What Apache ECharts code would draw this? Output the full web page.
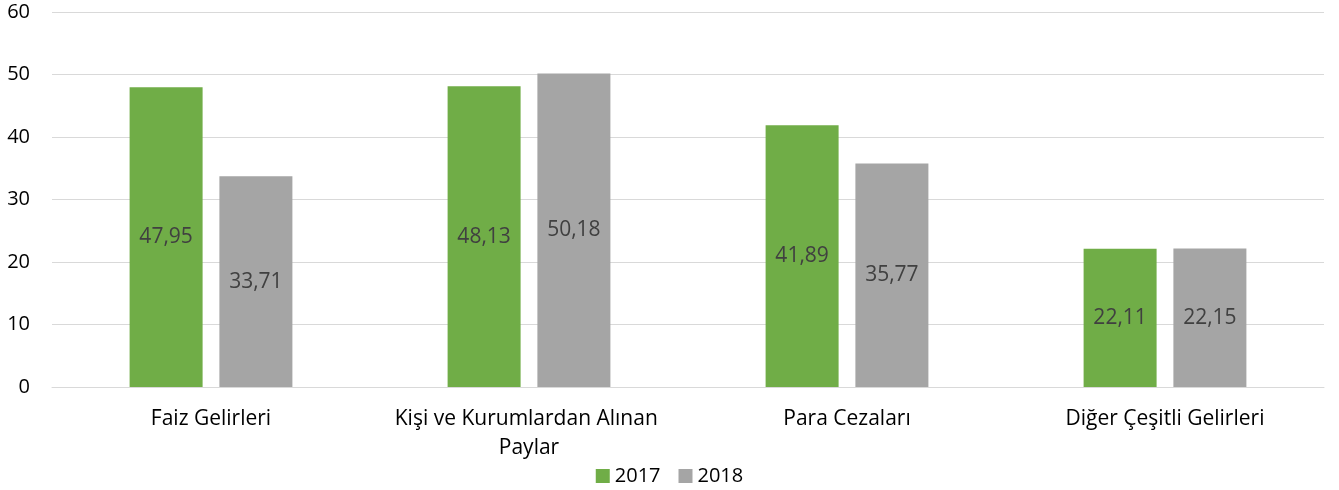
<!DOCTYPE html>
<html>
<head>
<meta charset="utf-8">
<script src="https://cdn.jsdelivr.net/npm/echarts@6/dist/echarts.min.js"></script>
<style>
  html, body { margin: 0; padding: 0; background: #fff; }
  #chart { width: 1339px; height: 490px; }
</style>
</head>
<body>
<div id="chart"></div>
<script>
const categories = ["Faiz Gelirleri", "Kişi ve Kurumlardan Alınan Paylar", "Para Cezaları", "Diğer Çeşitli Gelirleri"];
const values2017 = [47.95, 48.13, 41.89, 22.11];
const values2018 = [33.71, 50.18, 35.77, 22.15];
const yTicks = { min: 0, max: 60, interval: 10 };

const font = "'Open Sans', 'Noto Sans', sans-serif";
const chart = echarts.init(document.getElementById("chart"));

const labelStyle = {
  show: true,
  position: "inside",
  color: "#404040",
  fontSize: 21,
  fontFamily: font,
  formatter: (p) => p.value.toFixed(2).replace(".", ",")
};

chart.setOption({
  animation: false,
  textStyle: { fontFamily: font },
  legend: {
    top: 461,
    left: "center",
    itemWidth: 14,
    itemHeight: 14,
    itemGap: 18,
    icon: "rect",
    textStyle: { fontSize: 20, color: "#000", fontFamily: font },
    data: ["2017", "2018"]
  },
  grid: { left: 52, right: 15, top: 12, bottom: 103 },
  xAxis: {
    type: "category",
    data: categories,
    axisLine: { show: true, lineStyle: { color: "#d9d9d9", width: 1 } },
    axisTick: { show: false },
    axisLabel: {
      color: "#000",
      fontSize: 21,
      fontFamily: font,
      margin: 18,
      lineHeight: 29,
      width: 300,
      overflow: "break",
      interval: 0
    }
  },
  yAxis: {
    type: "value",
    min: yTicks.min,
    max: yTicks.max,
    interval: yTicks.interval,
    axisLine: { show: false },
    axisTick: { show: false },
    axisLabel: { color: "#000", fontSize: 20, fontFamily: font, margin: 22 },
    splitLine: { lineStyle: { color: "#d9d9d9", width: 1 } }
  },
  series: [
    {
      name: "2017",
      type: "bar",
      data: values2017,
      barWidth: 73,
      barGap: "23%",
      itemStyle: { color: "#70ad47" },
      label: labelStyle
    },
    {
      name: "2018",
      type: "bar",
      data: values2018,
      barWidth: 73,
      barGap: "23%",
      itemStyle: { color: "#a5a5a5" },
      label: labelStyle
    }
  ]
});
</script>
</body>
</html>
